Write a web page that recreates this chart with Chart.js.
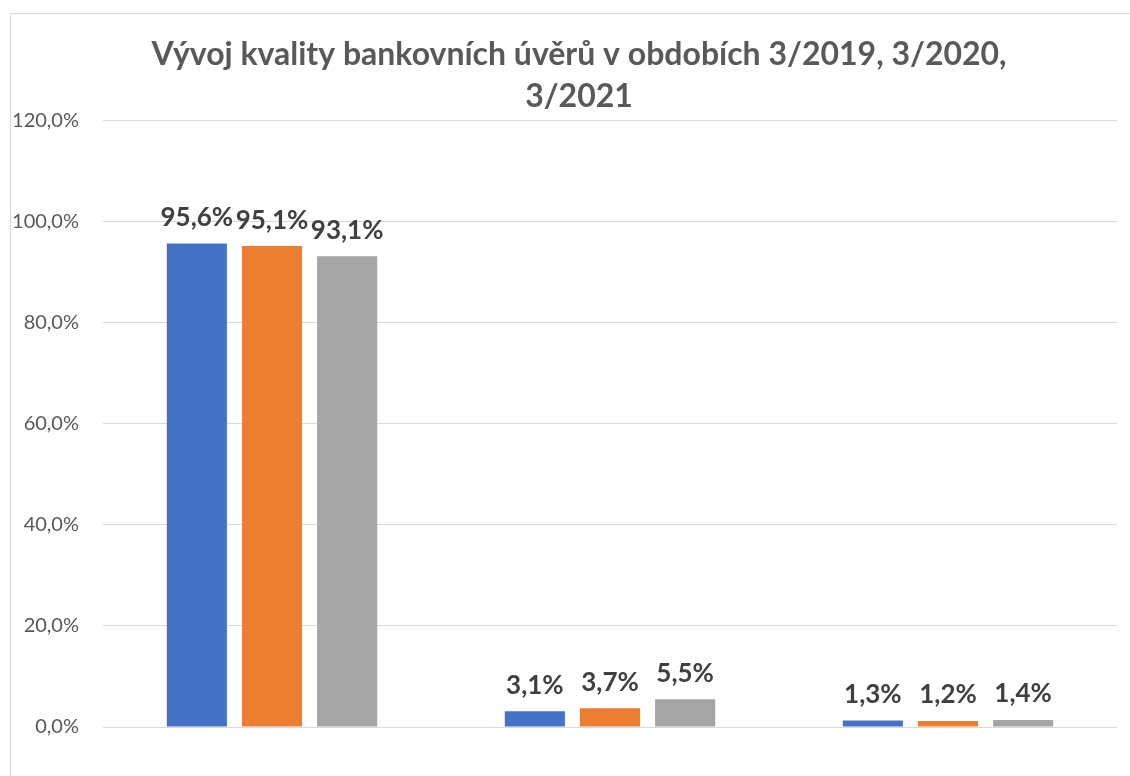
<!DOCTYPE html>
<html>
<head>
<meta charset="utf-8">
<script src="https://cdn.jsdelivr.net/npm/chart.js@4"></script>
<style>
  html, body { margin: 0; padding: 0; background: #fff; overflow: hidden; }
  #box {
    position: absolute; left: 10px; top: 13px;
    width: 1140px; height: 763px;
    border-left: 1px solid #d9d9d9; border-top: 1px solid #d9d9d9;
  }
</style>
</head>
<body>
<div id="box"><canvas id="chart" width="1139" height="762"></canvas></div>
<script>
/*===== DATA =====*/

const categories = ["", "", ""];
const seriesNames = ["3/2019", "3/2020", "3/2021"];
const values2019 = [95.6, 3.1, 1.3];
const values2020 = [95.1, 3.7, 1.2];
const values2021 = [93.1, 5.5, 1.4];
const colors = ["#4472C4", "#ED7D31", "#A5A5A5"];
const titleLines = ["Vývoj kvality bankovních úvěrů v obdobích 3/2019, 3/2020,", "3/2021"];

var pct = function(v) {
    return v.toFixed(1).replace(".", ",") + "%";
};

/*===== LABELS =====*/

var valueLabels = {
    id: "valueLabels",
    // let the y tick labels reach past the axis box (they get clipped to it)
    afterLayout: function(chart) {
        chart.scales.y.left = 0;
    },
    afterDatasetsDraw: function(chart) {
        var ctx = chart.ctx;
        ctx.save();
        ctx.font = "bold 26px Lato";
        ctx.fillStyle = "#404040";
        ctx.textAlign = "center";
        ctx.textBaseline = "bottom";
        chart.data.datasets.forEach(function(ds, i) {
            chart.getDatasetMeta(i).data.forEach(function(bar, j) {
                ctx.fillText(pct(ds.data[j]), bar.x, bar.y - 13);
            });
        });
        ctx.restore();
    }
};

/*===== CHART =====*/

new Chart("chart", {
    type: "bar",
    data: {
        labels: categories,
        datasets: [values2019, values2020, values2021].map(function(d, i) {
            return {
                label: seriesNames[i],
                data: d,
                backgroundColor: colors[i],
                categoryPercentage: 0.667,
                barPercentage: 0.8
            };
        })
    },
    options: {
        responsive: false,
        animation: false,
        layout: { padding: { left: 30, right: 33, top: 0, bottom: 41 } },
        plugins: {
            legend: { display: false },
            tooltip: { enabled: false },
            title: {
                display: true,
                text: titleLines,
                color: "#595959",
                font: { family: "Lato", size: 32, weight: "bold", lineHeight: 1.3 },
                padding: { top: 20, bottom: 3 }
            }
        },
        scales: {
            x: {
                ticks: { display: false },
                grid: { display: false },
                border: { display: false }
            },
            y: {
                min: 0,
                max: 120,
                afterFit: function(scale) { scale.width = 62; },
                ticks: {
                    stepSize: 20,
                    padding: 24,
                    color: "#595959",
                    font: { family: "Lato", size: 20 },
                    callback: function(v) { return pct(v); }
                },
                grid: { color: "#d9d9d9", drawTicks: false },
                border: { display: false }
            }
        }
    },
    plugins: [valueLabels]
});
</script>
</body>
</html>
